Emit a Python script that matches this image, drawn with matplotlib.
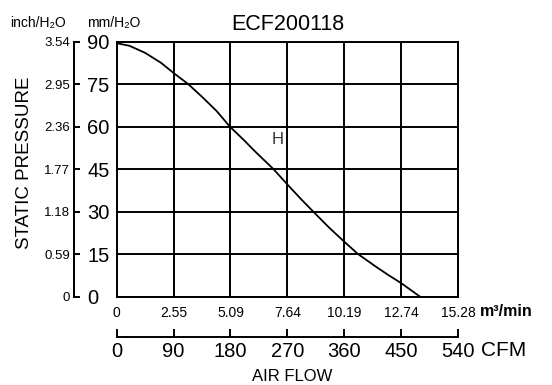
import matplotlib
matplotlib.use("Agg")
import matplotlib.pyplot as plt
from matplotlib import font_manager

# curve: air flow (CFM) vs static pressure (mmH2O)
flow_cfm = [0, 20, 45, 70, 90, 113, 135, 158, 179, 200, 220, 248, 270, 290,
            311, 335, 360, 382, 410, 430, 450, 480]
pressure_mm = [89.4, 88.5, 86, 82.5, 78.9, 75, 70.5, 65.5, 60, 55.5, 51, 45,
               39.6, 34.8, 30, 24.6, 19.4, 15, 10.6, 7.6, 4.8, 0]

cfm_ticks = [0, 90, 180, 270, 360, 450, 540]
m3_labels = ["0", "2.55", "5.09", "7.64", "10.19", "12.74", "15.28"]
mm_ticks = [0, 15, 30, 45, 60, 75, 90]
inch_labels = ["0", "0.59", "1.18", "1.77", "2.36", "2.95", "3.54"]

names = {f.name for f in font_manager.fontManager.ttflist}
narrow = "Liberation Sans Narrow" if "Liberation Sans Narrow" in names else "Liberation Sans"
regular = "Liberation Sans"

fig = plt.figure(figsize=(5.52, 3.85), dpi=100)
ax = fig.add_axes([0.2114, 0.2294, 0.6183, 0.6628])

ax.plot(flow_cfm, pressure_mm, color="black", lw=1.3, zorder=3)
ax.set_xlim(0, 540)
ax.set_ylim(0, 90)
ax.set_xticks(cfm_ticks)
ax.set_xticklabels(m3_labels, family=narrow, fontsize=10)
ax.set_yticks(mm_ticks)
ax.set_yticklabels([])
ax.tick_params(axis="both", length=0)
ax.tick_params(axis="x", pad=7)
ax.grid(True, color="black", lw=1.4)
for s in ax.spines.values():
    s.set_linewidth(1.4)

ax.text(254, 55.3, "H", fontsize=12, color="#333333", family=regular,
        ha="center", va="center")
ax.set_title("ECF200118", fontsize=15.5, family=regular, pad=8)

# left scale: inch labels on the left, mm labels on the right of one spine
sec_in = ax.secondary_yaxis(-0.125)
sec_in.set_yticks(mm_ticks)
sec_in.set_yticklabels(inch_labels, family=narrow, fontsize=9.5)
sec_in.set_yticks(mm_ticks[1:-1], minor=True)
sec_in.tick_params(axis="y", which="major", length=0, pad=3)
sec_in.tick_params(axis="y", which="minor", length=2, width=1.4, direction="out")
sec_in.spines["left"].set_linewidth(1.4)

sec_mm = ax.secondary_yaxis(-0.125)
sec_mm.set_alignment("right")
sec_mm.set_yticks(mm_ticks)
sec_mm.set_yticklabels([str(v) for v in mm_ticks], family=narrow, fontsize=14.5)
sec_mm.tick_params(axis="y", length=4.5, width=1.4, direction="out", pad=5)
sec_mm.spines["right"].set_linewidth(1.4)

# bottom CFM scale
sec_cfm = ax.secondary_xaxis(-0.157)
sec_cfm.set_xticks(cfm_ticks)
sec_cfm.set_xticklabels([str(v) for v in cfm_ticks], family=narrow, fontsize=14.5)
sec_cfm.tick_params(axis="x", length=6, width=1.4, direction="in", pad=4)
sec_cfm.spines["bottom"].set_linewidth(1.4)

fig.text(480 / 552, 1 - 312 / 385, "m³/min", fontsize=11.5, fontweight="bold",
         family=regular, ha="left", va="center")
fig.text(481 / 552, 1 - 350.5 / 385, "CFM", fontsize=15, family=regular,
         ha="left", va="center")
fig.text(292 / 552, 1 - 376.5 / 385, "AIR FLOW", fontsize=12, family=regular,
         ha="center", va="center")
fig.text(25 / 552, 1 - 163 / 385, "STATIC PRESSURE", fontsize=13.5, family=regular,
         rotation=90, ha="center", va="center")
fig.text(10 / 552, 1 - 23 / 385, "inch/H₂O", fontsize=10, family=[narrow, "DejaVu Sans"],
         ha="left", va="center")
fig.text(87 / 552, 1 - 23 / 385, "mm/H₂O", fontsize=10, family=[narrow, "DejaVu Sans"],
         ha="left", va="center")

fig.savefig("out.png", dpi=100, facecolor="white")
